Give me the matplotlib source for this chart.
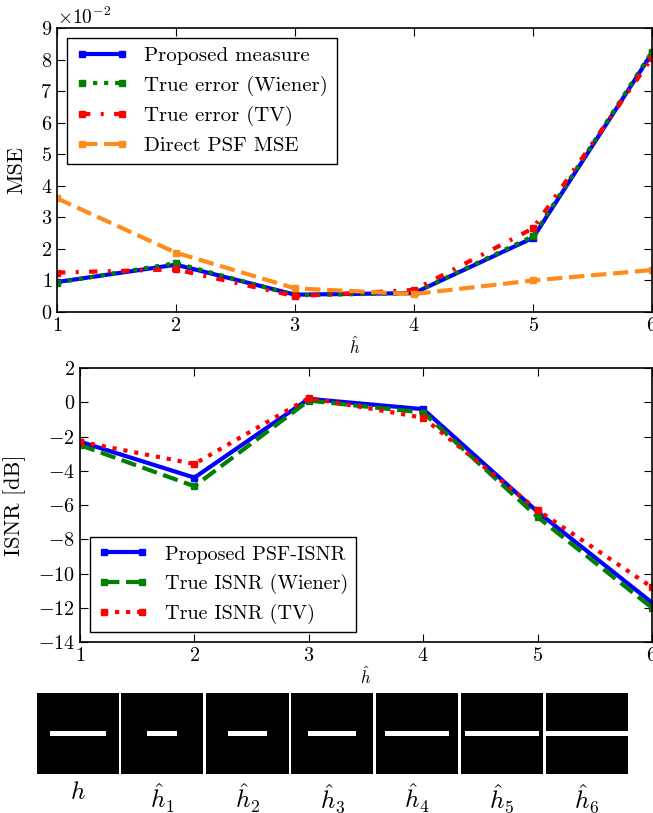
import numpy as np
import matplotlib
matplotlib.use('Agg')
from matplotlib import pyplot as plt
from matplotlib.ticker import ScalarFormatter

plt.rcParams['font.family'] = 'serif'
plt.rcParams['font.serif'] = ['cmr10']
plt.rcParams['mathtext.fontset'] = 'cm'
plt.rcParams['axes.formatter.use_mathtext'] = True
plt.rcParams['xtick.direction'] = 'in'
plt.rcParams['ytick.direction'] = 'in'
plt.rcParams['xtick.top'] = True
plt.rcParams['ytick.right'] = True
plt.rcParams['xtick.major.size'] = 6
plt.rcParams['ytick.major.size'] = 6
plt.rcParams['font.size'] = 14

# estimated PSF index
k = [1, 2, 3, 4, 5, 6]

# MSE (top)
mse_proposed = [0.0095, 0.0150, 0.0055, 0.0060, 0.0235, 0.0820]
mse_wiener = [0.0093, 0.0155, 0.0053, 0.0060, 0.0240, 0.0825]
mse_tv = [0.0125, 0.0135, 0.0050, 0.0070, 0.0265, 0.0805]
mse_psf = [0.0360, 0.0188, 0.0075, 0.0057, 0.0100, 0.0133]

# ISNR (middle)
isnr_proposed = [-2.3, -4.4, 0.2, -0.4, -6.4, -11.7]
isnr_wiener = [-2.5, -4.9, 0.1, -0.6, -6.7, -12.0]
isnr_tv = [-2.3, -3.6, 0.25, -0.9, -6.3, -10.8]

# blur kernels: true h and the six estimates (line lengths in pixels)
ker_size = 19
ker_len = [13, 7, 9, 11, 15, 17, 19]
ker_names = ['$h$', r'$\hat{h}_1$', r'$\hat{h}_2$', r'$\hat{h}_3$',
             r'$\hat{h}_4$', r'$\hat{h}_5$', r'$\hat{h}_6$']

blue = '#0000ff'
green = '#007f00'
red = '#ff0000'
orange = '#ff8c1a'

fig = plt.figure(figsize=(6.53, 8.13), dpi=100)

ax1 = fig.add_axes([57 / 653, 0.6162, 595 / 653, 0.3494])
ax1.plot(k, mse_proposed, '-', color=blue, lw=3, marker='s', ms=4, mec=blue, label='Proposed measure')
ax1.plot(k, mse_wiener, ':', color=green, lw=3, marker='s', ms=4, mec=green, label='True error (Wiener)')
ax1.plot(k, mse_tv, color=red, lw=3, dashes=(2, 2.5, 0.7, 2.5), marker='s', ms=4, mec=red, label='True error (TV)')
ax1.plot(k, mse_psf, '--', color=orange, lw=3, marker='s', ms=4, mec=orange, label='Direct PSF MSE')
ax1.set_xlim(1, 6)
ax1.set_ylim(0, 0.09)
ax1.set_yticks(np.arange(0, 0.091, 0.01))
fmt = ScalarFormatter(useMathText=True)
fmt.set_powerlimits((-2, 2))
ax1.yaxis.set_major_formatter(fmt)
ax1.set_ylabel('MSE', fontsize=16)
ax1.yaxis.set_label_coords(-0.052, 0.5)
ax1.set_xlabel(r'$\hat{h}$', fontsize=12, labelpad=0)
ax1.legend(loc='upper left', numpoints=2, fancybox=False, framealpha=1,
           edgecolor='black', fontsize=15, handlelength=2.5)

ax2 = fig.add_axes([80 / 653, 0.2103, 572 / 653, 0.337])
ax2.plot(k, isnr_proposed, '-', color=blue, lw=3, marker='s', ms=4, mec=blue, label='Proposed PSF-ISNR')
ax2.plot(k, isnr_wiener, '--', color=green, lw=3, marker='s', ms=4, mec=green, label='True ISNR (Wiener)')
ax2.plot(k, isnr_tv, ':', color=red, lw=3, marker='s', ms=4, mec=red, label='True ISNR (TV)')
ax2.set_xlim(1, 6)
ax2.set_ylim(-14, 2)
ax2.set_yticks(np.arange(-14, 3, 2))
ax2.set_ylabel('ISNR [dB]', fontsize=16)
ax2.yaxis.set_label_coords(-0.094, 0.5)
ax2.set_xlabel(r'$\hat{h}$', fontsize=12, labelpad=0)
ax2.legend(loc='lower left', numpoints=2, fancybox=False, framealpha=1,
           edgecolor='black', fontsize=14.5, handlelength=2.5)

for ax in (ax1, ax2):
    ax.tick_params(labelsize=14.5)
    for s in ax.spines.values():
        s.set_linewidth(1.2)

# kernel images
x0 = 36.6 / 653
slot = 84.9 / 653
w = 82 / 653
for i in range(len(ker_len)):
    img = np.zeros((ker_size, ker_size))
    L = ker_len[i]
    st = (ker_size - L) // 2
    img[ker_size // 2, st:st + L] = 1
    axi = fig.add_axes([x0 + i * slot, 1 - 774 / 813, w, 81 / 813])
    axi.imshow(img, cmap='gray', interpolation='nearest', aspect='auto', vmin=0, vmax=1)
    axi.set_xticks([]), axi.set_yticks([])
    for s in axi.spines.values():
        s.set_visible(False)
    axi.text(0.5, -0.1, ker_names[i], transform=axi.transAxes, ha='center', va='top', fontsize=18)

fig.savefig('out.png', dpi=100)
